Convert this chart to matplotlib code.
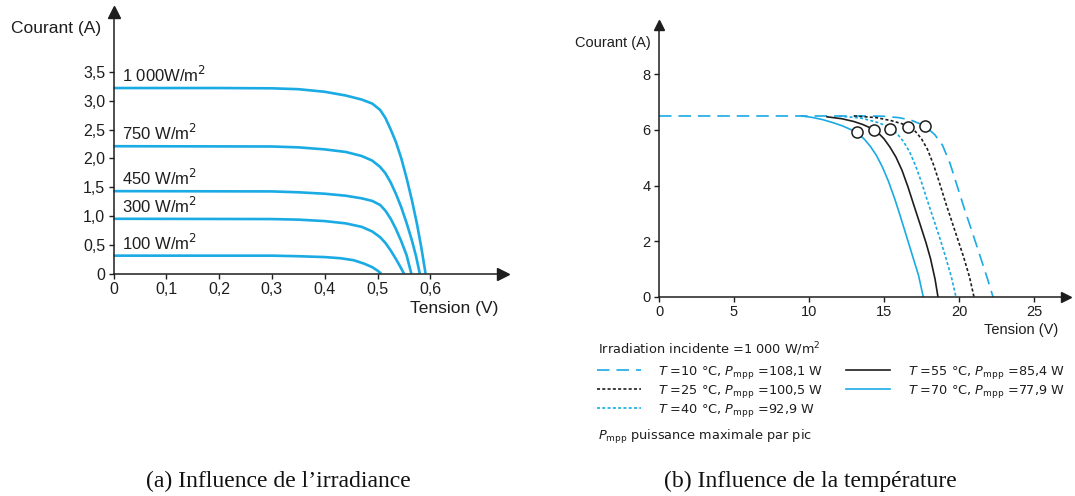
import matplotlib
matplotlib.use("Agg")
import matplotlib.pyplot as plt

plt.rcParams['font.family'] = ['Liberation Sans', 'DejaVu Sans']
plt.rcParams['mathtext.fontset'] = 'custom'
plt.rcParams['mathtext.rm'] = 'DejaVu Sans'
plt.rcParams['mathtext.it'] = 'DejaVu Sans:italic'
plt.rcParams['lines.scale_dashes'] = False

BLUE = '#1AAAE4'
INK = '#1e1e1e'

# ---------------- (a) irradiance data ----------------
irr_labels = ['1 000W/m$^{2}$', '750 W/m$^{2}$', '450 W/m$^{2}$', '300 W/m$^{2}$', '100 W/m$^{2}$']
v_1000 = [0.0, 0.20, 0.30, 0.35, 0.40, 0.44, 0.47, 0.49, 0.505, 0.515, 0.525, 0.535,
          0.545, 0.555, 0.565, 0.575, 0.583, 0.591]
i_1000 = [3.22, 3.22, 3.215, 3.20, 3.155, 3.09, 3.02, 2.95, 2.84, 2.70, 2.50, 2.28,
          2.00, 1.66, 1.28, 0.85, 0.45, 0.0]
v_750 = [0.0, 0.30, 0.35, 0.40, 0.44, 0.47, 0.49, 0.505, 0.515, 0.525, 0.535, 0.545,
         0.555, 0.565, 0.573, 0.580]
i_750 = [2.21, 2.205, 2.19, 2.155, 2.11, 2.04, 1.96, 1.85, 1.74, 1.58, 1.38, 1.15,
         0.88, 0.58, 0.30, 0.0]
v_450 = [0.0, 0.30, 0.35, 0.40, 0.44, 0.47, 0.49, 0.505, 0.515, 0.525, 0.535, 0.545,
         0.555, 0.564]
i_450 = [1.43, 1.425, 1.41, 1.385, 1.35, 1.305, 1.26, 1.19, 1.09, 0.95, 0.77, 0.56,
         0.32, 0.0]
v_300 = [0.0, 0.30, 0.35, 0.40, 0.44, 0.47, 0.49, 0.505, 0.515, 0.525, 0.535, 0.543, 0.550]
i_300 = [0.95, 0.945, 0.935, 0.91, 0.87, 0.81, 0.73, 0.63, 0.53, 0.40, 0.25, 0.12, 0.0]
v_100 = [0.0, 0.30, 0.35, 0.40, 0.43, 0.455, 0.475, 0.49, 0.50, 0.507]
i_100 = [0.31, 0.31, 0.30, 0.285, 0.265, 0.23, 0.17, 0.11, 0.05, 0.0]
irr_v = [v_1000, v_750, v_450, v_300, v_100]
irr_i = [i_1000, i_750, i_450, i_300, i_100]
irr_isc = [3.22, 2.21, 1.43, 0.95, 0.31]

xa_ticks = [0, 0.1, 0.2, 0.3, 0.4, 0.5, 0.6]
xa_labels = ['0', '0,1', '0,2', '0,3', '0,4', '0,5', '0,6']
ya_ticks = [0, 0.5, 1.0, 1.5, 2.0, 2.5, 3.0, 3.5]
ya_labels = ['0', '0,5', '1,0', '1,5', '2,0', '2,5', '3,0', '3,5']

# ---------------- (b) temperature data ----------------
temp_labels = [r'$T$ =10 °C, $P_{\mathrm{mpp}}$ =108,1 W',
               r'$T$ =25 °C, $P_{\mathrm{mpp}}$ =100,5 W',
               r'$T$ =40 °C, $P_{\mathrm{mpp}}$ =92,9 W',
               r'$T$ =55 °C, $P_{\mathrm{mpp}}$ =85,4 W',
               r'$T$ =70 °C, $P_{\mathrm{mpp}}$ =77,9 W']
v_t10 = [0.0, 14.0, 15.0, 16.0, 16.8, 17.4, 17.9, 18.4, 18.9, 19.4, 19.9, 20.4, 20.9,
         21.4, 21.9, 22.27]
i_t10 = [6.5, 6.5, 6.49, 6.44, 6.35, 6.22, 6.06, 5.82, 5.45, 4.80, 3.95, 3.10, 2.30,
         1.48, 0.65, 0.0]
v_t25 = [13.0, 14.5, 15.5, 16.2, 16.7, 17.1, 17.5, 17.9, 18.3, 18.7, 19.1, 19.5, 19.9,
         20.3, 20.7, 21.0]
i_t25 = [6.5, 6.44, 6.33, 6.22, 6.10, 5.94, 5.68, 5.30, 4.75, 4.10, 3.40, 2.75, 2.10,
         1.45, 0.72, 0.0]
v_t40 = [12.0, 13.5, 14.5, 15.0, 15.5, 15.9, 16.3, 16.7, 17.1, 17.5, 17.9, 18.3, 18.7,
         19.1, 19.5, 19.8]
i_t40 = [6.5, 6.42, 6.28, 6.18, 6.03, 5.85, 5.58, 5.22, 4.72, 4.12, 3.45, 2.80, 2.15,
         1.45, 0.70, 0.0]
v_t55 = [11.2, 12.2, 13.0, 13.6, 14.1, 14.6, 15.0, 15.4, 15.8, 16.2, 16.6, 17.0, 17.4,
         17.8, 18.1, 18.4, 18.6]
i_t55 = [6.47, 6.40, 6.30, 6.19, 6.07, 5.90, 5.68, 5.38, 5.02, 4.55, 3.95, 3.28, 2.62,
         1.95, 1.38, 0.65, 0.0]
v_t70 = [9.5, 10.2, 10.9, 11.6, 12.2, 12.8, 13.3, 13.7, 14.1, 14.5, 14.9, 15.3, 15.7,
         16.1, 16.5, 16.9, 17.3, 17.62]
i_t70 = [6.5, 6.45, 6.37, 6.26, 6.15, 6.01, 5.85, 5.66, 5.40, 5.08, 4.66, 4.15, 3.55,
         2.88, 2.18, 1.48, 0.78, 0.0]
temp_v = [v_t10, v_t25, v_t40, v_t55, v_t70]
temp_i = [i_t10, i_t25, i_t40, i_t55, i_t70]
mpp_v = [17.7, 16.6, 15.4, 14.3, 13.2]
mpp_i = [6.13, 6.10, 6.05, 6.00, 5.92]

xb_ticks = [0, 5, 10, 15, 20, 25]
yb_ticks = [0, 2, 4, 6, 8]

temp_styles = [dict(color=BLUE, dashes=(9, 5)),
               dict(color=INK, dashes=(2.2, 1.6)),
               dict(color=BLUE, dashes=(2.2, 1.6)),
               dict(color=INK, linestyle='-'),
               dict(color=BLUE, linestyle='-')]

W, H = 1075, 496
fig = plt.figure(figsize=(W / 100, H / 100), dpi=100)


def px_axes(x0, y0, x1, y1):
    # x0,y0 = origin (px from top-left), x1 = right end, y1 = top end
    return fig.add_axes([x0 / W, (H - y0) / H, (x1 - x0) / W, (y0 - y1) / H])


def style_axes(ax, fs, ms):
    for s in ['top', 'right']:
        ax.spines[s].set_visible(False)
    for s in ['left', 'bottom']:
        ax.spines[s].set_color(INK)
        ax.spines[s].set_linewidth(1.1)
    ax.tick_params(direction='out', length=3.5, width=1.0, color=INK,
                   labelsize=fs, labelcolor=INK, pad=2.5)
    ax.plot([1], [0], marker='>', ms=ms, color=INK, transform=ax.transAxes,
            clip_on=False, zorder=5)
    ax.plot([0], [1], marker='^', ms=ms, color=INK, transform=ax.transAxes,
            clip_on=False, zorder=5)
    ax.patch.set_alpha(0)


# ---------------- left axes ----------------
axa = px_axes(113.5, 273.5, 503, 12)
axa.set_xlim(0, (503 - 113.5) / 528.0)
axa.set_ylim(0, (273.5 - 12) / 57.6)
style_axes(axa, 11.5, 8)
for v, i, lab, isc in zip(irr_v, irr_i, irr_labels, irr_isc):
    axa.plot(v, i, color=BLUE, lw=1.9, solid_capstyle='butt',
             solid_joinstyle='round', clip_on=False)
    axa.text(0.016, isc + 0.05, lab, fontsize=12, color=INK, ha='left', va='bottom')
axa.set_xticks(xa_ticks)
axa.set_xticklabels(xa_labels)
axa.set_yticks(ya_ticks)
axa.set_yticklabels(ya_labels)
fig.text(11 / W, 1 - 29 / H, 'Courant (A)', fontsize=12.5, color=INK, va='center', ha='left')
fig.text(498 / W, 1 - 309 / H, 'Tension (V)', fontsize=12.5, color=INK, va='center', ha='right')

# ---------------- right axes ----------------
axb = px_axes(659, 297, 1066, 25)
axb.set_xlim(0, (1066 - 659) / 15.0)
axb.set_ylim(0, (297 - 25) / 27.85)
style_axes(axb, 10.5, 7)
handles = []
for v, i, lab, st in zip(temp_v, temp_i, temp_labels, temp_styles):
    ln, = axb.plot(v, i, lw=1.2, label=lab, solid_joinstyle='round',
                   dash_joinstyle='round', **st)
    handles.append(ln)
axb.plot(mpp_v, mpp_i, linestyle='none', marker='o', ms=8, mfc='white',
         mec=INK, mew=1.1, zorder=6)
axb.set_xticks(xb_ticks)
axb.set_yticks(yb_ticks)
fig.text(575 / W, 1 - 43 / H, 'Courant (A)', fontsize=10.5, color=INK, va='center', ha='left')
fig.text(1058 / W, 1 - 330 / H, 'Tension (V)', fontsize=10.5, color=INK, va='center', ha='right')

# legend
leg_font = {'family': ['DejaVu Sans'], 'size': 9.3}
fig.text(598 / W, 1 - 349 / H, 'Irradiation incidente =1 000 W/m$^{2}$',
         fontdict=leg_font, color=INK, va='center', ha='left')
leg = fig.legend(handles=handles, loc='upper left',
                 bbox_to_anchor=(597 / W, 1 - 364 / H), ncol=2, frameon=False,
                 prop={'family': 'DejaVu Sans', 'size': 9.3}, handlelength=3.4,
                 handletextpad=1.35, columnspacing=1.75, labelspacing=0.14,
                 borderpad=0, borderaxespad=0)
for t in leg.get_texts():
    t.set_color(INK)
fig.text(598 / W, 1 - 437 / H, r'$P_{\mathrm{mpp}}$ puissance maximale par pic',
         fontdict=leg_font, color=INK, va='center', ha='left')

# captions
cap = {'family': ['Liberation Serif'], 'size': 17}
fig.text(278.5 / W, 1 - 481 / H, '(a) Influence de l’irradiance', fontdict=cap,
         color='#111111', ha='center', va='center')
fig.text(810 / W, 1 - 481 / H, '(b) Influence de la température', fontdict=cap,
         color='#111111', ha='center', va='center')

fig.savefig('out.png', dpi=100)
